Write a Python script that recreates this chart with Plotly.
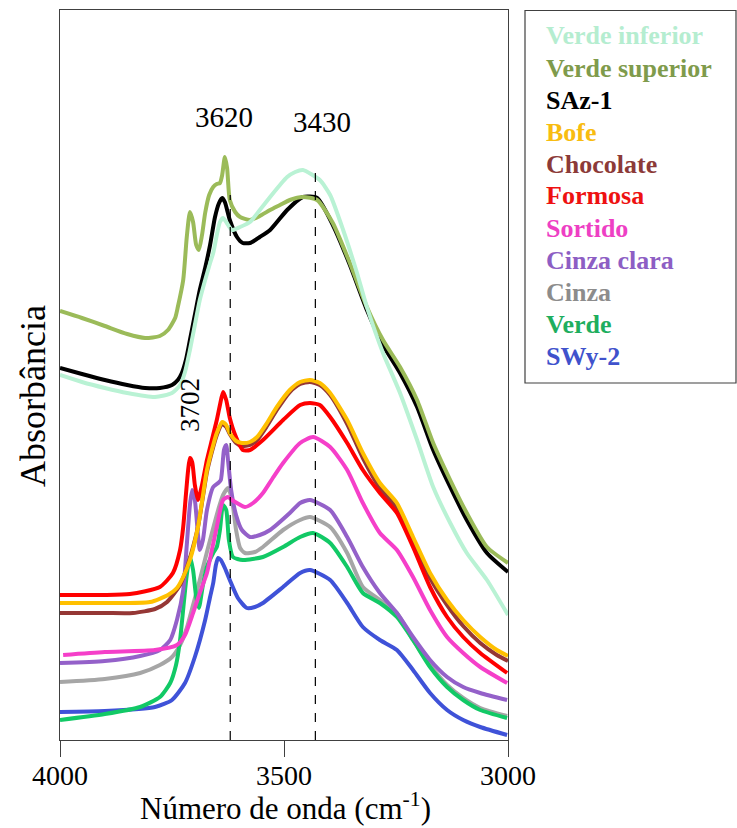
import plotly.graph_objects as go

# FTIR spectra in the OH stretching region (absorbance in arbitrary units)

wn_verde_inferior = [4000, 3951, 3900, 3850, 3788, 3750, 3732, 3721, 3710, 3699, 3688, 3676, 3665, 3658,
                     3650, 3643, 3636, 3629, 3616, 3598, 3576, 3554, 3531, 3509, 3493, 3475, 3458, 3420,
                     3397, 3368, 3337, 3315, 3279, 3241, 3203, 3167, 3129, 3092, 3047, 3000]
abs_verde_inferior = [3.65, 3.58, 3.52, 3.47, 3.43, 3.47, 3.55, 3.68, 3.90, 4.15, 4.40, 4.60, 4.77, 4.87,
                      5.05, 5.18, 5.22, 5.18, 5.10, 5.13, 5.18, 5.30, 5.43, 5.55, 5.63, 5.68, 5.70, 5.60,
                      5.45, 5.10, 4.67, 4.33, 3.87, 3.47, 3.00, 2.53, 2.17, 1.87, 1.60, 1.25]

wn_verde_superior = [4000, 3951, 3900, 3850, 3810, 3777, 3759, 3743, 3737, 3725, 3717, 3710, 3703, 3696,
                     3690, 3683, 3676, 3667, 3658, 3650, 3643, 3638, 3632, 3627, 3621, 3609, 3598, 3576,
                     3554, 3531, 3509, 3487, 3458, 3426, 3391, 3353, 3315, 3279, 3241, 3203, 3167, 3129,
                     3092, 3047, 3000]
abs_verde_superior = [4.29, 4.22, 4.14, 4.06, 4.02, 4.04, 4.10, 4.22, 4.33, 4.60, 5.03, 5.28, 5.18, 4.95,
                      4.90, 5.05, 5.27, 5.45, 5.53, 5.56, 5.57, 5.65, 5.83, 5.72, 5.40, 5.28, 5.23, 5.20,
                      5.24, 5.30, 5.35, 5.40, 5.43, 5.40, 5.17, 4.77, 4.33, 4.00, 3.73, 3.40, 2.97, 2.60,
                      2.27, 1.93, 1.77]

wn_saz1 = [4000, 3951, 3900, 3850, 3810, 3777, 3750, 3737, 3728, 3719, 3710, 3699, 3688, 3676, 3665,
           3654, 3645, 3638, 3632, 3621, 3605, 3592, 3576, 3554, 3531, 3493, 3458, 3426, 3391, 3353,
           3315, 3279, 3241, 3203, 3167, 3129, 3092, 3047, 3000]
abs_saz1 = [3.72, 3.66, 3.60, 3.55, 3.52, 3.52, 3.55, 3.60, 3.67, 3.80, 4.00, 4.25, 4.50, 4.72, 4.95,
            5.23, 5.37, 5.42, 5.38, 5.20, 5.03, 4.97, 4.97, 5.03, 5.10, 5.30, 5.43, 5.42, 5.15, 4.75,
            4.30, 3.95, 3.67, 3.33, 2.90, 2.53, 2.20, 1.87, 1.68]

wn_bofe = [4000, 3900, 3799, 3759, 3739, 3725, 3710, 3692, 3672, 3658, 3650, 3638, 3629, 3621, 3607,
           3594, 3576, 3560, 3538, 3516, 3487, 3464, 3442, 3420, 3397, 3359, 3324, 3286, 3248, 3212,
           3174, 3136, 3100, 3062, 3025, 3000]
abs_bofe = [1.37, 1.37, 1.38, 1.45, 1.52, 1.63, 1.80, 2.13, 2.70, 2.95, 3.07, 3.18, 3.15, 3.07, 2.99,
            2.97, 2.98, 3.03, 3.17, 3.33, 3.50, 3.58, 3.60, 3.57, 3.47, 3.20, 2.87, 2.57, 2.37, 2.03,
            1.67, 1.40, 1.20, 1.03, 0.90, 0.84]

wn_chocolate = [4000, 3900, 3837, 3788, 3761, 3732, 3721, 3710, 3692, 3672, 3658, 3650, 3638, 3629,
                3621, 3607, 3594, 3576, 3560, 3538, 3516, 3487, 3464, 3442, 3420, 3397, 3359, 3324,
                3286, 3248, 3212, 3174, 3136, 3100, 3062, 3025, 3000]
abs_chocolate = [1.27, 1.27, 1.27, 1.31, 1.38, 1.55, 1.67, 1.82, 2.13, 2.68, 2.93, 3.05, 3.16, 3.13,
                 3.06, 2.97, 2.94, 2.95, 3.00, 3.14, 3.30, 3.48, 3.56, 3.58, 3.55, 3.45, 3.16, 2.82,
                 2.52, 2.32, 1.98, 1.62, 1.35, 1.14, 0.97, 0.85, 0.79]

wn_formosa = [4000, 3900, 3844, 3777, 3748, 3732, 3725, 3719, 3714, 3710, 3705, 3699, 3692, 3683, 3672,
              3661, 3650, 3643, 3636, 3629, 3621, 3609, 3592, 3576, 3547, 3502, 3464, 3442, 3420, 3397,
              3359, 3324, 3286, 3248, 3212, 3174, 3136, 3100, 3062, 3002]
abs_formosa = [1.45, 1.45, 1.46, 1.53, 1.67, 1.90, 2.13, 2.45, 2.70, 2.82, 2.78, 2.55, 2.40, 2.55, 2.80,
               3.00, 3.20, 3.35, 3.48, 3.40, 3.22, 3.05, 2.90, 2.90, 3.00, 3.20, 3.35, 3.37, 3.35, 3.23,
               2.97, 2.70, 2.47, 2.27, 1.93, 1.53, 1.23, 1.03, 0.87, 0.67]

wn_sortido = [3993, 3900, 3788, 3739, 3721, 3703, 3688, 3672, 3661, 3650, 3636, 3625, 3616, 3605, 3587,
              3569, 3547, 3525, 3502, 3464, 3435, 3397, 3359, 3324, 3286, 3248, 3212, 3174, 3136, 3100,
              3062, 3002]
abs_sortido = [0.85, 0.88, 0.90, 0.95, 1.05, 1.27, 1.47, 1.67, 1.90, 2.13, 2.40, 2.43, 2.40, 2.37, 2.33,
               2.37, 2.47, 2.62, 2.77, 2.97, 3.03, 2.93, 2.70, 2.37, 2.07, 1.90, 1.63, 1.30, 1.03, 0.87,
               0.73, 0.57]

wn_cinza_clara = [4000, 3900, 3821, 3777, 3754, 3739, 3725, 3717, 3710, 3705, 3699, 3692, 3688, 3681,
                  3672, 3658, 3647, 3641, 3634, 3629, 3625, 3618, 3607, 3594, 3576, 3554, 3531, 3487,
                  3464, 3442, 3397, 3359, 3324, 3286, 3248, 3212, 3174, 3136, 3100, 3062, 3002]
abs_cinza_clara = [0.77, 0.79, 0.84, 0.90, 1.00, 1.20, 1.50, 1.95, 2.35, 2.50, 2.40, 2.05, 1.90, 2.00,
                   2.30, 2.53, 2.57, 2.60, 2.90, 2.95, 2.80, 2.50, 2.25, 2.10, 2.03, 2.05, 2.10, 2.27,
                   2.37, 2.40, 2.30, 2.03, 1.73, 1.47, 1.27, 1.03, 0.80, 0.63, 0.53, 0.47, 0.40]

wn_cinza = [4000, 3900, 3821, 3777, 3750, 3732, 3717, 3703, 3688, 3672, 3658, 3647, 3636, 3625, 3616,
            3607, 3598, 3587, 3565, 3547, 3502, 3464, 3442, 3397, 3359, 3324, 3286, 3248, 3212, 3174,
            3136, 3100, 3062, 3002]
abs_cinza = [0.58, 0.61, 0.67, 0.75, 0.83, 0.95, 1.12, 1.35, 1.60, 1.88, 2.12, 2.30, 2.45, 2.52, 2.40,
             2.10, 1.92, 1.87, 1.88, 1.93, 2.10, 2.20, 2.23, 2.13, 1.87, 1.53, 1.40, 1.27, 1.00, 0.75,
             0.55, 0.42, 0.32, 0.24]

wn_verde = [4000, 3900, 3821, 3777, 3754, 3741, 3732, 3723, 3717, 3710, 3703, 3696, 3690, 3681, 3672,
            3658, 3650, 3643, 3636, 3629, 3623, 3614, 3592, 3547, 3502, 3464, 3435, 3397, 3359, 3324,
            3286, 3248, 3212, 3174, 3136, 3100, 3062, 3002]
abs_verde = [0.20, 0.26, 0.33, 0.43, 0.57, 0.75, 1.00, 1.40, 1.65, 1.83, 1.70, 1.43, 1.32, 1.55, 1.73,
             1.87, 1.93, 2.10, 2.35, 2.30, 2.00, 1.83, 1.80, 1.83, 1.93, 2.03, 2.07, 1.97, 1.73, 1.47,
             1.37, 1.23, 1.00, 0.73, 0.53, 0.40, 0.30, 0.22]

wn_swy2 = [4000, 3900, 3788, 3750, 3721, 3699, 3676, 3665, 3658, 3652, 3647, 3641, 3632, 3621, 3603,
           3583, 3565, 3547, 3502, 3464, 3442, 3397, 3359, 3324, 3286, 3248, 3212, 3174, 3136, 3100,
           3062, 3002]
abs_swy2 = [0.28, 0.29, 0.33, 0.40, 0.57, 0.83, 1.20, 1.43, 1.57, 1.75, 1.82, 1.80, 1.72, 1.60, 1.42,
            1.32, 1.33, 1.37, 1.53, 1.67, 1.70, 1.60, 1.37, 1.13, 1.00, 0.90, 0.70, 0.47, 0.30, 0.20,
            0.13, 0.05]

# legend order (top to bottom)
sample_names = ["Verde inferior", "Verde superior", "SAz-1", "Bofe", "Chocolate", "Formosa",
                "Sortido", "Cinza clara", "Cinza", "Verde", "SWy-2"]

# marked band positions (cm-1)
band_lines = [3620, 3430]
band_labels = ["3620", "3430", "3702"]

series = {
    "Verde inferior": (wn_verde_inferior, abs_verde_inferior),
    "Verde superior": (wn_verde_superior, abs_verde_superior),
    "SAz-1": (wn_saz1, abs_saz1),
    "Bofe": (wn_bofe, abs_bofe),
    "Chocolate": (wn_chocolate, abs_chocolate),
    "Formosa": (wn_formosa, abs_formosa),
    "Sortido": (wn_sortido, abs_sortido),
    "Cinza clara": (wn_cinza_clara, abs_cinza_clara),
    "Cinza": (wn_cinza, abs_cinza),
    "Verde": (wn_verde, abs_verde),
    "SWy-2": (wn_swy2, abs_swy2),
}

line_colors = {
    "Verde inferior": "#B9F2D4",
    "Verde superior": "#9BBB59",
    "SAz-1": "#000000",
    "Bofe": "#FFC000",
    "Chocolate": "#953735",
    "Formosa": "#FF0000",
    "Sortido": "#F53FC9",
    "Cinza clara": "#9461C9",
    "Cinza": "#A6A6A6",
    "Verde": "#12C966",
    "SWy-2": "#3F52D8",
}
text_colors = {
    "Verde inferior": "#B5EDD0",
    "Verde superior": "#7F9B4C",
    "SAz-1": "#000000",
    "Bofe": "#F8BC10",
    "Chocolate": "#8C3A38",
    "Formosa": "#EE1111",
    "Sortido": "#EE3FC4",
    "Cinza clara": "#8D5EC4",
    "Cinza": "#8C8C8C",
    "Verde": "#1EAE5E",
    "SWy-2": "#4052CC",
}

draw_order = ["Cinza", "SWy-2", "Verde", "Cinza clara", "Sortido", "Chocolate", "Formosa", "Bofe",
              "SAz-1", "Verde superior", "Verde inferior"]

SERIF = "Liberation Serif"

fig = go.Figure()
for name in draw_order:
    x, y = series[name]
    fig.add_trace(go.Scatter(
        x=x, y=y, mode="lines", name=name, showlegend=False,
        line=dict(color=line_colors[name], width=4, shape="spline", smoothing=0.6),
    ))

# dashed guide lines at the marked bands
line_tops = {3620: 5.45, 3430: 5.75}
for wn in band_lines:
    fig.add_shape(type="line", xref="x", yref="y", x0=wn, x1=wn, y0=0, y1=line_tops[wn],
                  line=dict(color="#000000", width=1.2, dash="dash"))

fig.add_annotation(x=3633, y=6.23, xref="x", yref="y", text=band_labels[0], showarrow=False,
                   font=dict(family=SERIF, size=29, color="#000000"))
fig.add_annotation(x=3415, y=6.18, xref="x", yref="y", text=band_labels[1], showarrow=False,
                   font=dict(family=SERIF, size=29, color="#000000"))
fig.add_annotation(x=3710, y=3.35, xref="x", yref="y", text=band_labels[2], showarrow=False,
                   textangle=-90, font=dict(family=SERIF, size=27, color="#000000"))

# legend box with coloured labels
W_PLOT = 448.0
H_PLOT = 730.0
def px_x(px):
    return (px - 60) / W_PLOT
def px_y(py):
    return (740 - py) / H_PLOT

fig.add_shape(type="rect", xref="paper", yref="paper",
              x0=px_x(525), x1=px_x(736), y0=px_y(383), y1=px_y(10.5),
              line=dict(color="#404040", width=1.2), fillcolor="rgba(0,0,0,0)")
for i, name in enumerate(sample_names):
    fig.add_annotation(x=px_x(544), y=px_y(36 + 32 * i), xref="paper", yref="paper",
                       text="<b>" + name + "</b>", showarrow=False, xanchor="left", yanchor="middle",
                       font=dict(family=SERIF, size=26, color=text_colors[name]))

# axis titles
fig.add_annotation(x=px_x(285), y=px_y(806), xref="paper", yref="paper",
                   text="Número de onda (cm<sup>-1</sup>)", showarrow=False,
                   xanchor="center", yanchor="middle",
                   font=dict(family=SERIF, size=31, color="#000000"))
fig.add_annotation(x=px_x(33), y=px_y(396), xref="paper", yref="paper",
                   text="Absorbância", showarrow=False, textangle=-90,
                   xanchor="center", yanchor="middle",
                   font=dict(family=SERIF, size=36, color="#000000"))

fig.update_xaxes(range=[4000, 3000], tickvals=[4000, 3500, 3000], ticktext=["4000", "3500", "3000"],
                 ticks="outside", ticklen=16, tickwidth=1.2, tickcolor="#404040",
                 ticklabelstandoff=-6,
                 showline=True, linecolor="#404040", linewidth=1.2, mirror=True,
                 showgrid=False, zeroline=False,
                 tickfont=dict(family=SERIF, size=28, color="#000000"))
fig.update_yaxes(range=[0, 7.3], showticklabels=False, ticks="",
                 showline=True, linecolor="#404040", linewidth=1.2, mirror=True,
                 showgrid=False, zeroline=False)

fig.update_layout(
    width=737, height=828,
    margin=dict(l=60, r=229, t=10, b=88),
    paper_bgcolor="#FFFFFF", plot_bgcolor="#FFFFFF",
    showlegend=False,
    font=dict(family=SERIF),
)

fig.write_html("out.html")
